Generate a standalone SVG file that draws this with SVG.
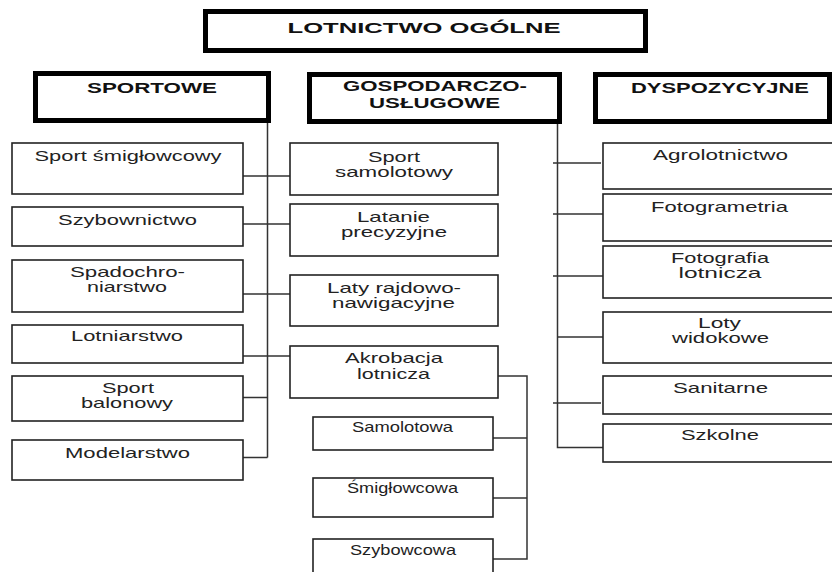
<svg xmlns="http://www.w3.org/2000/svg" width="832" height="572" viewBox="0 0 832 572">
<style>
.hb{fill:#fff;stroke:#000;stroke-width:5}
.b{fill:#fff;stroke:#222;stroke-width:1.6}
.c{fill:none;stroke:#333;stroke-width:1.5}
.h{font-family:"Liberation Sans",Arial,sans-serif;font-weight:bold;font-size:15px;fill:#111;text-anchor:middle}
.t{font-family:"Liberation Sans",Arial,sans-serif;font-size:14.5px;fill:#222;text-anchor:middle}
</style>
<rect width="832" height="572" fill="#fff"/>
<g id="connectors" class="c">
<path d="M267.5 123V457.5M243 457.5H267.5M243 397.5H267.5M243 176H290M243 224H290M243 294H290M243 356H290"/>
<path d="M557.5 124V447.5H603M553 163H601M553 214H603M553 276H603M557.5 337H603M553 403H601"/>
<path d="M491 376H527V559H491M491 438H527M491 498H527"/>
</g>
<g id="root"><rect class="hb" x="205.5" y="11.5" width="440" height="39"/><text class="h" x="424" y="32.5" font-size="16" textLength="273" lengthAdjust="spacingAndGlyphs">LOTNICTWO OGÓLNE</text></g>
<g id="sportowe"><rect class="hb" x="35.5" y="73.5" width="233" height="47"/><text class="h" x="152" y="93" textLength="130" lengthAdjust="spacingAndGlyphs">SPORTOWE</text></g>
<g id="gospodarczo"><rect class="hb" x="309.5" y="74.5" width="250" height="47"/><text class="h" x="435" y="91" font-size="13" textLength="184" lengthAdjust="spacingAndGlyphs">GOSPODARCZO-</text><text class="h" x="434.5" y="108" font-size="13" textLength="131" lengthAdjust="spacingAndGlyphs">USŁUGOWE</text></g>
<g id="dyspozycyjne"><rect class="hb" x="595.5" y="74.5" width="234" height="47"/><text class="h" x="720" y="92.5" textLength="178" lengthAdjust="spacingAndGlyphs">DYSPOZYCYJNE</text></g>
<g id="sport-smiglowcowy"><rect class="b" x="12" y="143" width="231" height="51"/><text class="t" x="128" y="161" textLength="187" lengthAdjust="spacingAndGlyphs">Sport śmigłowcowy</text></g>
<g id="szybownictwo"><rect class="b" x="12" y="207" width="231" height="39"/><text class="t" x="127.5" y="225" textLength="139" lengthAdjust="spacingAndGlyphs">Szybownictwo</text></g>
<g id="spadochroniarstwo"><rect class="b" x="12" y="260" width="231" height="52"/><text class="t" x="127.5" y="277" textLength="115" lengthAdjust="spacingAndGlyphs">Spadochro-</text><text class="t" x="127" y="292" textLength="80" lengthAdjust="spacingAndGlyphs">niarstwo</text></g>
<g id="lotniarstwo"><rect class="b" x="12" y="325" width="231" height="38"/><text class="t" x="127" y="341" textLength="112" lengthAdjust="spacingAndGlyphs">Lotniarstwo</text></g>
<g id="sport-balonowy"><rect class="b" x="12" y="376" width="231" height="45"/><text class="t" x="128" y="392.5" textLength="52" lengthAdjust="spacingAndGlyphs">Sport</text><text class="t" x="127" y="408" textLength="92" lengthAdjust="spacingAndGlyphs">balonowy</text></g>
<g id="modelarstwo"><rect class="b" x="12" y="440" width="231" height="40"/><text class="t" x="127.5" y="458" textLength="125" lengthAdjust="spacingAndGlyphs">Modelarstwo</text></g>
<g id="sport-samolotowy"><rect class="b" x="290" y="143" width="208" height="52"/><text class="t" x="394" y="162" textLength="52" lengthAdjust="spacingAndGlyphs">Sport</text><text class="t" x="394" y="177" textLength="118" lengthAdjust="spacingAndGlyphs">samolotowy</text></g>
<g id="latanie"><rect class="b" x="290" y="204" width="208" height="52"/><text class="t" x="393.5" y="222" textLength="73" lengthAdjust="spacingAndGlyphs">Latanie</text><text class="t" x="394" y="237" textLength="106" lengthAdjust="spacingAndGlyphs">precyzyjne</text></g>
<g id="laty-rajdowo"><rect class="b" x="290" y="275" width="208" height="51"/><text class="t" x="394" y="293" textLength="134" lengthAdjust="spacingAndGlyphs">Laty rajdowo-</text><text class="t" x="393.5" y="307.5" textLength="123" lengthAdjust="spacingAndGlyphs">nawigacyjne</text></g>
<g id="akrobacja"><rect class="b" x="290" y="346" width="208" height="52"/><text class="t" x="394" y="363" textLength="98" lengthAdjust="spacingAndGlyphs">Akrobacja</text><text class="t" x="393.5" y="379" textLength="73" lengthAdjust="spacingAndGlyphs">lotnicza</text></g>
<g id="samolotowa"><rect class="b" x="313" y="417" width="180" height="33"/><text class="t" x="402.5" y="432" font-size="13.5" textLength="101" lengthAdjust="spacingAndGlyphs">Samolotowa</text></g>
<g id="smiglowcowa"><rect class="b" x="313" y="478" width="180" height="39"/><text class="t" x="402.5" y="493" font-size="13.5" textLength="111" lengthAdjust="spacingAndGlyphs">Śmigłowcowa</text></g>
<g id="szybowcowa"><rect class="b" x="313" y="539" width="180" height="40"/><text class="t" x="403" y="555" font-size="13.5" textLength="106" lengthAdjust="spacingAndGlyphs">Szybowcowa</text></g>
<g id="agrolotnictwo"><rect class="b" x="603" y="143" width="240" height="46"/><text class="t" x="720.5" y="160" textLength="135" lengthAdjust="spacingAndGlyphs">Agrolotnictwo</text></g>
<g id="fotogrametria"><rect class="b" x="603" y="194" width="240" height="47"/><text class="t" x="719.5" y="212" textLength="137" lengthAdjust="spacingAndGlyphs">Fotogrametria</text></g>
<g id="fotografia"><rect class="b" x="603" y="246" width="240" height="52"/><text class="t" x="720" y="263" textLength="98" lengthAdjust="spacingAndGlyphs">Fotografia</text><text class="t" x="720" y="278" textLength="83" lengthAdjust="spacingAndGlyphs">lotnicza</text></g>
<g id="loty-widokowe"><rect class="b" x="603" y="312" width="240" height="51"/><text class="t" x="719.5" y="328" textLength="43" lengthAdjust="spacingAndGlyphs">Loty</text><text class="t" x="720.5" y="343" textLength="97" lengthAdjust="spacingAndGlyphs">widokowe</text></g>
<g id="sanitarne"><rect class="b" x="603" y="376" width="240" height="38"/><text class="t" x="720.5" y="393" textLength="95" lengthAdjust="spacingAndGlyphs">Sanitarne</text></g>
<g id="szkolne"><rect class="b" x="603" y="424" width="240" height="38"/><text class="t" x="720" y="440" textLength="78" lengthAdjust="spacingAndGlyphs">Szkolne</text></g>
</svg>
